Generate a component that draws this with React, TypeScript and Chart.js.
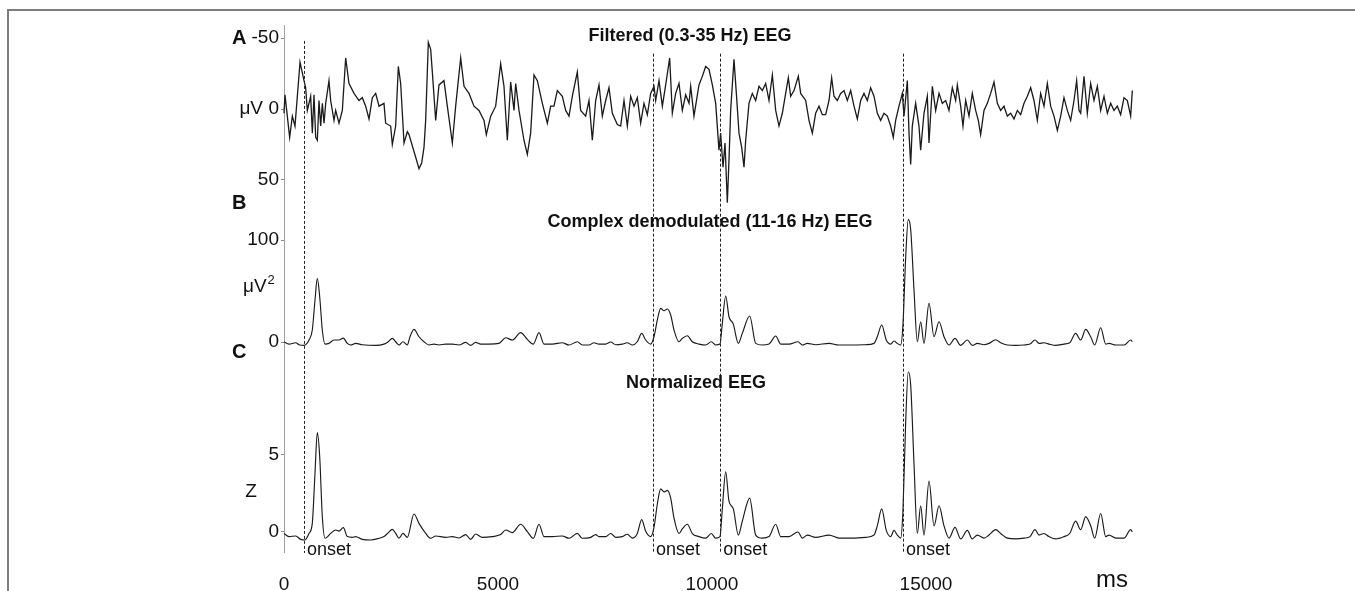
import React, { useEffect, useRef } from "react";
import { Chart, registerables } from "chart.js";

Chart.register(...registerables);

// ---------- data ----------
// Panel A: filtered EEG (ms, µV)
const eegTime = [
  0, 23, 132, 195, 257, 374, 467, 506, 545, 623,
  662, 701, 740, 779, 818, 857, 896, 935, 974, 1051,
  1090, 1168, 1207, 1285, 1363, 1441, 1519, 1636, 1752, 1830,
  1908, 1986, 2064, 2142, 2220, 2336, 2375, 2492, 2531, 2609,
  2671, 2726, 2804, 2882, 2921, 3077, 3154, 3217, 3271, 3310,
  3372, 3427, 3466, 3544, 3621, 3738, 3816, 3933, 4011, 4128,
  4206, 4322, 4439, 4556, 4673, 4727, 4829, 4946, 5062, 5140,
  5218, 5296, 5374, 5413, 5491, 5607, 5685, 5763, 5841, 5919,
  6036, 6153, 6231, 6308, 6386, 6503, 6581, 6659, 6737, 6853,
  6931, 7048, 7126, 7204, 7282, 7360, 7438, 7516, 7593, 7671,
  7788, 7866, 7944, 8022, 8100, 8178, 8255, 8333, 8411, 8489,
  8567, 8645, 8684, 8762, 8840, 8918, 9011, 9073, 9151, 9229,
  9307, 9385, 9463, 9502, 9579, 9696, 9774, 9852, 9930, 10008,
  10086, 10163, 10202, 10257, 10304, 10358, 10397, 10436, 10514, 10569,
  10631, 10693, 10748, 10787, 10864, 10942, 11020, 11098, 11176, 11254,
  11332, 11410, 11488, 11565, 11643, 11721, 11783, 11838, 11916, 12017,
  12072, 12189, 12266, 12344, 12422, 12500, 12578, 12656, 12734, 12796,
  12850, 12928, 13006, 13084, 13162, 13240, 13318, 13396, 13474, 13551,
  13629, 13707, 13785, 13863, 13941, 14019, 14097, 14174, 14236, 14291,
  14369, 14447, 14486, 14564, 14603, 14642, 14680, 14758, 14836, 14875,
  14953, 15031, 15070, 15148, 15226, 15304, 15382, 15460, 15537, 15615,
  15693, 15732, 15810, 15864, 15927, 16005, 16082, 16160, 16222, 16277,
  16355, 16433, 16511, 16589, 16667, 16745, 16822, 16900, 16978, 17056,
  17134, 17212, 17290, 17368, 17446, 17523, 17601, 17679, 17757, 17835,
  17913, 17991, 18069, 18147, 18224, 18302, 18380, 18458, 18520, 18575,
  18614, 18692, 18769, 18847, 18925, 19003, 19081, 19159, 19237, 19315,
  19393, 19470, 19548, 19626, 19704, 19782, 19821,
];
const eegUv = [
  3, -10, 20, 5, 12, -33, -20, -15, 1, -9,
  17, -10, 20, 22, -6, 12, -4, 10, -4, -20,
  -6, 8, 1, 10, 1, -36, -18, -11, -6, -8,
  -2, 7, -8, -11, -2, -4, 10, 12, 25, 12,
  -30, -18, 24, 16, 18, 34, 42, 38, 27, 8,
  -47, -42, -26, 8, -17, -20, -2, 24, -2, -36,
  -16, -11, -2, 1, 8, 18, 5, -2, -32, -16,
  22, -19, 1, -18, 1, 22, 32, 17, -24, -20,
  -4, 10, -2, -2, -13, -9, 1, 5, -9, -26,
  1, 5, -6, 22, -6, -17, 5, -6, -15, 3,
  11, 12, -6, 12, -9, -2, -8, 10, -4, 4,
  -11, -16, -6, -20, -2, -17, -36, 3, -11, -18,
  1, -10, -4, -16, 5, -17, -23, -30, -28, -17,
  -4, 29, 17, 41, 24, 66, 36, 1, -35, -11,
  17, 27, 41, 22, -4, -11, -6, -16, -13, -18,
  -6, -24, 1, 12, 3, -11, -22, -9, -13, -23,
  -11, -6, 8, 17, 3, -2, 4, 4, -6, -22,
  -9, -6, -11, -13, -6, -13, -2, 7, -6, -11,
  -6, -15, -9, 3, 8, 3, 5, 12, 20, 8,
  -2, -11, 5, -20, 17, 39, 12, -4, 12, 29,
  3, -9, 24, -16, 1, -11, -4, -6, 1, -15,
  -6, -17, -2, 12, -6, 5, -11, 1, 8, 18,
  1, -4, -11, -19, -4, 1, -2, 5, 3, 7,
  1, 4, -4, -9, -15, -6, 8, -11, -2, -18,
  -2, 5, 15, 5, -8, 1, 8, -6, -20, 1,
  3, -23, 3, -18, -6, -16, 1, -9, 3, -4,
  1, -2, 4, -8, -6, 5, -13,
];

// Panel B: complex demodulated power (ms, µV²)
const powTime = [
  0, 117, 273, 350, 467, 584, 661, 724, 778, 834,
  895, 958, 1051, 1168, 1285, 1386, 1479, 1558, 1675, 1829,
  2143, 2336, 2437, 2530, 2610, 2687, 2780, 2881, 2944, 3037,
  3154, 3271, 3388, 3505, 3621, 3778, 3932, 4089, 4245, 4362,
  4479, 4596, 4790, 5023, 5180, 5334, 5530, 5685, 5825, 5958,
  6075, 6269, 6502, 6659, 6853, 6970, 7126, 7243, 7360, 7516,
  7633, 7750, 7904, 8021, 8138, 8255, 8357, 8451, 8568, 8645,
  8722, 8801, 8879, 8956, 9035, 9112, 9229, 9306, 9423, 9540,
  9696, 9853, 9984, 10086, 10187, 10241, 10320, 10397, 10498, 10615,
  10708, 10881, 11021, 11175, 11332, 11488, 11605, 11799, 12009, 12110,
  12227, 12423, 12734, 12967, 13278, 13591, 13785, 13862, 13965, 14072,
  14175, 14252, 14329, 14409, 14463, 14526, 14586, 14643, 14720, 14797,
  14876, 14953, 15070, 15187, 15304, 15421, 15537, 15678, 15810, 15965,
  16082, 16199, 16355, 16472, 16629, 16745, 16900, 17096, 17290, 17430,
  17547, 17640, 17757, 17874, 18030, 18224, 18357, 18497, 18614, 18731,
  18848, 18941, 19082, 19199, 19276, 19432, 19626, 19782, 19820,
];
const powUv2 = [
  0.3, -2, -0.7, -2.6, -3.3, 2, 11.8, 41, 62.4, 44.4,
  11.8, -2, -1.3, 2, 2, 3.9, -1.3, -2.9, -1.3, -2.6,
  -3.3, -2, 0.3, 3.6, 0.3, -2.9, 0.3, -2.9, 5.2, 12.4,
  5.2, 0.3, -2.9, -2, -2.9, -2, -2, -2.9, -0.3, -3.3,
  -0.3, -2, -2, -1.3, 4.2, 2, 9.2, 2.6, -2, 9.2,
  -2, -2, -0.7, -2.9, 0.3, -2.9, -2.9, -0.7, -2, -2,
  0, -2.6, -2, -0.7, -2.9, 0.3, 8.5, 2, -2, 5.2,
  21.6, 33, 30.7, 32.4, 26.5, 11.8, 0.3, 3.6, 6.2, 0.3,
  -2, -2.9, 0.3, -2.9, -2, 18.3, 45.1, 24.8, 17.6, -1.3,
  8.5, 25.5, -1.3, -2.9, -2, 5.9, -2, -2, 0.3, -2.9,
  -1.3, -2.6, -1.3, -2.9, -2.9, -2.6, -1.3, 5.2, 16.7, 2,
  -2, 1, -1.3, -2.9, 18.3, 83.7, 120.3, 109.8, 51, 0.3,
  19.9, -1.3, 37.9, 5.2, 19.9, 5.2, -2.9, 3.6, -3.3, 2,
  -3.3, -1.3, -2.6, -1.3, 2.3, -0.7, -2.9, -3.3, -2.9, -2,
  2, -1.3, -0.7, -2, -3.3, -2, -0.7, 8.5, 2, 12.4,
  5.2, -2.9, 14, -2, -1.3, -2.9, -2.9, 2, 0.3,
];

// Panel C: normalized EEG (ms, z)
const zTime = [
  0, 117, 273, 390, 491, 584, 661, 724, 778, 834,
  895, 958, 1091, 1208, 1285, 1386, 1479, 1596, 1675, 1829,
  2026, 2220, 2336, 2437, 2530, 2610, 2687, 2780, 2881, 3037,
  3154, 3311, 3428, 3544, 3778, 3932, 4089, 4245, 4362, 4479,
  4633, 4867, 5063, 5180, 5334, 5530, 5685, 5825, 5958, 6075,
  6269, 6502, 6659, 6853, 6970, 7166, 7283,
  7360, 7516, 7633, 7750, 7904, 8021, 8138, 8255, 8357, 8451,
  8568, 8645, 8722, 8801, 8879, 8956, 9035, 9112, 9229, 9306,
  9423, 9540, 9696, 9853, 9984, 10086, 10187, 10241, 10320, 10397,
  10498, 10615, 10708, 10881, 11021, 11175, 11332, 11488, 11605, 11799,
  12009, 12110, 12227, 12423, 12734, 12967, 13278, 13591, 13785, 13862,
  13965, 14072, 14175, 14252, 14329, 14409, 14463, 14526, 14586, 14643,
  14720, 14797, 14876, 14953, 15070, 15187, 15304, 15421, 15537, 15678,
  15810, 15965, 16082, 16199, 16355, 16472, 16629, 16745, 16900, 17096,
  17290, 17430, 17547, 17640, 17757, 17874, 18030, 18224, 18357, 18497,
  18614, 18731, 18848, 18941, 19082, 19199, 19276, 19432, 19626, 19782,
  19820,
];
const zScore = [
  -0.1, -0.3, -0.26, -0.48, -0.52, -0.1, 0.56, 3.8, 6.45, 4.9,
  1.0, -0.41, -0.09, 0.13, 0.06, 0.28, -0.3, -0.35, -0.3, -0.48,
  -0.52, -0.41, -0.3, -0.04, 0.17, -0.09, -0.41, -0.09, -0.35, 1.17,
  0.56, -0.09, -0.41, -0.26, -0.35, -0.3, -0.39, -0.17, -0.48, -0.13,
  -0.35, -0.3, -0.17, 0.13, -0.04, 0.5, 0.02, -0.41, 0.5, -0.3,
  -0.3, -0.26, -0.41, -0.09, -0.41, -0.35, -0.17,
  -0.3, -0.3, -0.1, -0.35, -0.3, -0.15, -0.4, -0.1, 0.8, 0.05,
  -0.3, 0.3, 1.8, 2.8, 2.6, 2.7, 2.2, 0.9, -0.1, 0.2,
  0.5, -0.1, -0.3, -0.4, -0.1, -0.4, -0.3, 1.5, 3.9, 2.0,
  1.5, -0.2, 0.7, 2.2, -0.2, -0.4, -0.3, 0.5, -0.3, -0.3,
  0, -0.4, -0.2, -0.35, -0.2, -0.4, -0.4, -0.35, -0.2, 0.4,
  1.5, 0.1, -0.3, 0.1, -0.2, -0.4, 1.5, 7.2, 10.4, 9.5,
  4.4, -0.1, 1.7, -0.2, 3.3, 0.4, 1.7, 0.4, -0.4, 0.3,
  -0.45, 0.1, -0.45, -0.2, -0.4, -0.2, 0.15, -0.1, -0.4, -0.45,
  -0.4, -0.3, 0.15, -0.2, -0.1, -0.3, -0.45, -0.3, -0.1, 0.7,
  0.15, 1.0, 0.4, -0.4, 1.2, -0.3, -0.2, -0.4, -0.4, 0.15,
  0,
];

// Spindle onsets (ms) and the µV level where each dashed marker starts in panel A
const onsetMs = [467, 8620, 10190, 14460];
const onsetTopUv = [-48, -39, -39, -39];

const xTickValues = [0, 5000, 10000, 15000];
const ticksA = [-50, 0, 50];
const ticksB = [0, 100];
const ticksC = [0, 5];

const titleA = "Filtered (0.3-35 Hz) EEG";
const titleB = "Complex demodulated (11-16 Hz) EEG";
const titleC = "Normalized EEG";

// ---------- styling ----------
const FONT = '"Liberation Sans", Arial, Helvetica, sans-serif';
const INK = "#1a1a1a";

const toPoints = (t: number[], v: number[]) => t.map((x, i) => ({ x, y: v[i] }));

const yTickCommon = (vals: number[]) => ({
  afterBuildTicks: (s: any) => {
    s.ticks = vals.map((v) => ({ value: v }));
  },
  afterFit: (s: any) => {
    s.width = 40;
  },
  ticks: {
    font: { family: FONT, size: 19 },
    color: "#111",
    padding: 2,
    callback: (v: any) => String(v),
  },
  grid: {
    display: true,
    drawOnChartArea: false,
    drawTicks: true,
    tickLength: 3,
    color: "#8a8a8a",
  },
  border: { display: true, color: "#a0a0a0", width: 1 },
});

const overlay = {
  id: "eegOverlay",
  afterDatasetsDraw(chart: any) {
    const { ctx, scales } = chart;
    const x = scales.x;
    const yA = scales.yA;
    const yC = scales.yC;
    ctx.save();
    ctx.strokeStyle = "#222";
    ctx.lineWidth = 1;
    ctx.setLineDash([3, 2]);
    onsetMs.forEach((t, i) => {
      const px = Math.round(x.getPixelForValue(t)) + 0.5;
      const top = yA.getPixelForValue(onsetTopUv[i]);
      ctx.beginPath();
      ctx.moveTo(px, top);
      ctx.lineTo(px, yC.bottom + 1);
      ctx.stroke();
    });
    ctx.setLineDash([]);
    ctx.fillStyle = "#111";
    ctx.font = `18px ${FONT}`;
    ctx.textBaseline = "middle";
    ctx.textAlign = "left";
    onsetMs.forEach((t) => {
      const px = x.getPixelForValue(t);
      ctx.fillText("onset", px + 3, yC.bottom - 2);
    });
    ctx.restore();
  },
  afterDraw(chart: any) {
    const { ctx, scales } = chart;
    const yA = scales.yA;
    const yB = scales.yB;
    const yC = scales.yC;
    ctx.save();
    ctx.fillStyle = "#111";
    ctx.textBaseline = "middle";

    // panel letters
    ctx.font = `bold 20px ${FONT}`;
    ctx.textAlign = "left";
    ctx.fillText("A", 232, 38);
    ctx.fillText("B", 232, 203);
    ctx.fillText("C", 232, 352);

    // panel titles
    ctx.font = `bold 18px ${FONT}`;
    ctx.textAlign = "center";
    ctx.fillText(titleA, 690, 36);
    ctx.fillText(titleB, 710, 222);
    ctx.fillText(titleC, 696, 383);

    // units
    ctx.font = `19px ${FONT}`;
    ctx.textAlign = "right";
    ctx.fillText("\u03bcV", 263, yA.getPixelForValue(0));
    ctx.textAlign = "left";
    const yU = yB.getPixelForValue(54);
    ctx.fillText("\u03bcV", 243, yU);
    const w = ctx.measureText("\u03bcV").width;
    ctx.font = `13px ${FONT}`;
    ctx.fillText("2", 243 + w + 1, yU - 7);
    ctx.font = `19px ${FONT}`;
    ctx.textAlign = "center";
    ctx.fillText("Z", 251, yC.getPixelForValue(2.6));

    // x unit
    ctx.font = `24px ${FONT}`;
    ctx.fillText("ms", 1112, 580);
    ctx.restore();
  },
};

export default function App() {
  const ref = useRef<HTMLCanvasElement>(null);

  useEffect(() => {
    if (!ref.current) return;
    const line = (data: any, axis: string, smooth: boolean, width: number) => ({
      data,
      yAxisID: axis,
      xAxisID: "x",
      borderColor: INK,
      borderWidth: width,
      pointRadius: 0,
      fill: false,
      clip: false as any,
      tension: 0,
      cubicInterpolationMode: smooth ? "monotone" : "default",
    });
    const chart = new Chart(ref.current, {
      type: "line",
      data: {
        datasets: [
          line(toPoints(eegTime, eegUv), "yA", false, 1.3),
          line(toPoints(powTime, powUv2), "yB", true, 1.15),
          line(toPoints(zTime, zScore), "yC", true, 1.15),
        ] as any,
      },
      options: {
        responsive: false,
        animation: false,
        events: [],
        layout: { padding: { left: 244, right: 215, top: 25, bottom: 0 } },
        plugins: {
          legend: { display: false },
          tooltip: { enabled: false },
          title: { display: false },
        },
        scales: {
          x: {
            type: "linear",
            position: "bottom",
            min: 0,
            max: 20000,
            grid: { display: false, drawTicks: false },
            border: { display: false },
            afterBuildTicks: (s: any) => {
              s.ticks = xTickValues.map((v) => ({ value: v }));
            },
            afterFit: (s: any) => {
              s.height = 39;
            },
            ticks: {
              font: { family: FONT, size: 19 },
              color: "#111",
              padding: 21,
              maxRotation: 0,
              autoSkip: false,
              callback: (v: any) => String(v),
            },
          },
          yA: {
            type: "linear",
            position: "left",
            stack: "panels",
            stackWeight: 172,
            weight: 3,
            reverse: true,
            min: -59.2,
            max: 62,
            ...yTickCommon(ticksA),
          },
          yB: {
            type: "linear",
            position: "left",
            stack: "panels",
            stackWeight: 168,
            weight: 2,
            min: -22.5,
            max: 142.2,
            ...yTickCommon(ticksB),
          },
          yC: {
            type: "linear",
            position: "left",
            stack: "panels",
            stackWeight: 187,
            weight: 1,
            min: -1.3,
            max: 10.84,
            ...yTickCommon(ticksC),
          },
        } as any,
      },
      plugins: [overlay],
    });
    return () => chart.destroy();
  }, []);

  return (
    <div
      style={{
        position: "fixed",
        left: 0,
        top: 0,
        width: 1355,
        height: 591,
        background: "#fff",
        overflow: "hidden",
      }}
    >
      <div
        style={{
          position: "absolute",
          left: 7,
          top: 9,
          right: -10,
          bottom: -10,
          borderTop: "2px solid #7c7c7c",
          borderLeft: "2px solid #7c7c7c",
        }}
      />
      <canvas
        ref={ref}
        width={1355}
        height={591}
        style={{ position: "absolute", left: 0, top: 0, width: 1355, height: 591 }}
      />
    </div>
  );
}
